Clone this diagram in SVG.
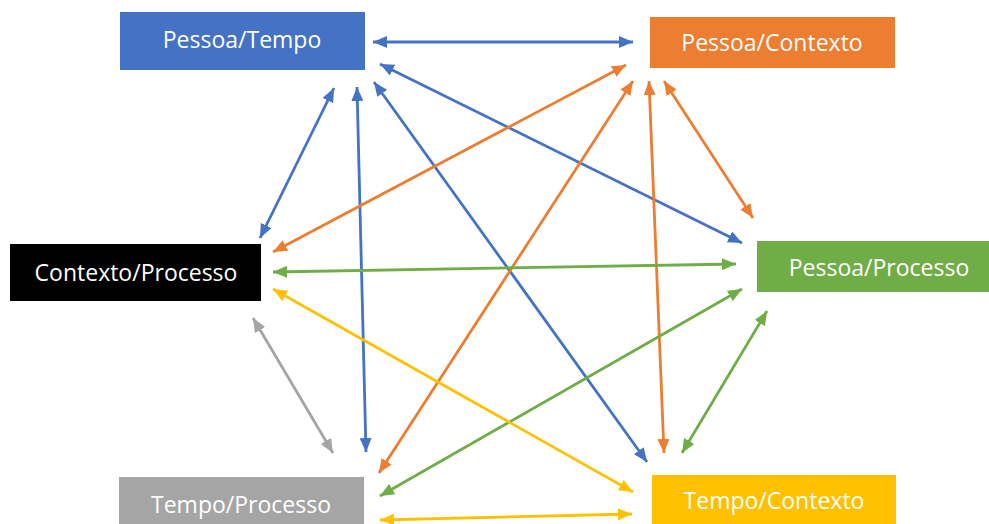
<svg xmlns="http://www.w3.org/2000/svg" width="989" height="524" viewBox="0 0 989 524">
<defs>
<style>
.lbl{font-family:"Open Sans","Noto Sans","DejaVu Sans",sans-serif;font-size:23px;fill:#ffffff;text-anchor:middle}
.c{fill:none;stroke-width:2.8}
.b{stroke:#4472C4;marker-start:url(#mb);marker-end:url(#mb)}
.o{stroke:#ED7D31;marker-start:url(#mo);marker-end:url(#mo)}
.g{stroke:#70AD47;marker-start:url(#mg);marker-end:url(#mg)}
.y{stroke:#FFC000;marker-start:url(#my);marker-end:url(#my)}
.r{stroke:#A5A5A5;marker-start:url(#mr);marker-end:url(#mr)}
</style>
<marker id="mb" viewBox="0 0 14 12" refX="14" refY="6" markerWidth="14" markerHeight="12" markerUnits="userSpaceOnUse" orient="auto-start-reverse"><path d="M0,0 L14,6 L0,12 z" fill="#4472C4"/></marker>
<marker id="mo" viewBox="0 0 14 12" refX="14" refY="6" markerWidth="14" markerHeight="12" markerUnits="userSpaceOnUse" orient="auto-start-reverse"><path d="M0,0 L14,6 L0,12 z" fill="#ED7D31"/></marker>
<marker id="mg" viewBox="0 0 14 12" refX="14" refY="6" markerWidth="14" markerHeight="12" markerUnits="userSpaceOnUse" orient="auto-start-reverse"><path d="M0,0 L14,6 L0,12 z" fill="#70AD47"/></marker>
<marker id="my" viewBox="0 0 14 12" refX="14" refY="6" markerWidth="14" markerHeight="12" markerUnits="userSpaceOnUse" orient="auto-start-reverse"><path d="M0,0 L14,6 L0,12 z" fill="#FFC000"/></marker>
<marker id="mr" viewBox="0 0 14 12" refX="14" refY="6" markerWidth="14" markerHeight="12" markerUnits="userSpaceOnUse" orient="auto-start-reverse"><path d="M0,0 L14,6 L0,12 z" fill="#A5A5A5"/></marker>
</defs>
<rect width="989" height="524" fill="#ffffff"/>
<g id="connectors">
<line class="c b" x1="373" y1="42" x2="633" y2="42"/>
<line class="c b" x1="334" y1="88" x2="260" y2="238"/>
<line class="c b" x1="357" y1="87" x2="366" y2="452"/>
<line class="c b" x1="374" y1="82" x2="647" y2="462"/>
<line class="c b" x1="380" y1="64" x2="742" y2="243"/>
<line class="c o" x1="626" y1="65" x2="273" y2="252"/>
<line class="c o" x1="633" y1="81" x2="379" y2="473"/>
<line class="c o" x1="649" y1="81" x2="664" y2="453"/>
<line class="c o" x1="664" y1="81" x2="753" y2="218"/>
<line class="c g" x1="273" y1="272" x2="736" y2="264"/>
<line class="c g" x1="742" y1="289" x2="380" y2="496"/>
<line class="c g" x1="767" y1="311" x2="682" y2="453"/>
<line class="c y" x1="273" y1="289" x2="633" y2="492"/>
<line class="c y" x1="380" y1="520" x2="632" y2="514"/>
<line class="c r" x1="253" y1="318" x2="333" y2="453"/>
</g>
<g id="pessoa-tempo"><rect x="120" y="12" width="245" height="58" fill="#4472C4"/><text class="lbl" x="242" y="48">Pessoa/Tempo</text></g>
<g id="pessoa-contexto"><rect x="650" y="17" width="245" height="51" fill="#ED7D31"/><text class="lbl" x="772" y="51">Pessoa/Contexto</text></g>
<g id="contexto-processo"><rect x="10" y="244" width="251" height="57" fill="#000000"/><text class="lbl" x="136" y="281">Contexto/Processo</text></g>
<g id="pessoa-processo"><rect x="757" y="241" width="232" height="51" fill="#70AD47"/><text class="lbl" x="879" y="276">Pessoa/Processo</text></g>
<g id="tempo-processo"><rect x="119" y="477" width="245" height="47" fill="#A5A5A5"/><text class="lbl" x="241" y="513">Tempo/Processo</text></g>
<g id="tempo-contexto"><rect x="652" y="475" width="244" height="49" fill="#FFC000"/><text class="lbl" x="774" y="509">Tempo/Contexto</text></g>
</svg>
